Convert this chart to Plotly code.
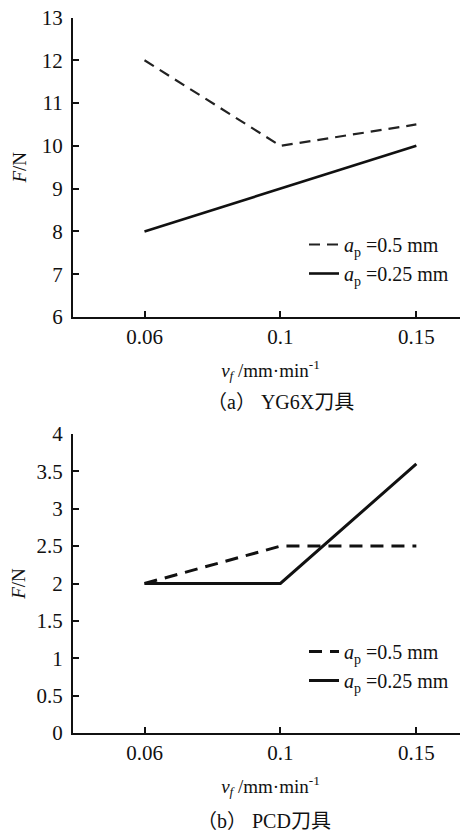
import plotly.graph_objects as go

categories = ["0.06", "0.1", "0.15"]
yg6x_ap05 = [12, 10, 10.5]
yg6x_ap025 = [8, 9, 10]
pcd_ap05 = [2, 2.5, 2.5]
pcd_ap025 = [2, 2, 3.6]
names = ["<i>a</i><sub>p</sub> =0.5 mm", "<i>a</i><sub>p</sub> =0.25 mm"]
top_yticks = [6, 7, 8, 9, 10, 11, 12, 13]
bot_yticks = [0, 0.5, 1, 1.5, 2, 2.5, 3, 3.5, 4]
bot_yticktext = ["0", "0.5", "1", "1.5", "2", "2.5", "3", "3.5", "4"]

OFF = 8  # default page body margin
W, H = 468 - OFF, 831 - OFF
FONT = "Liberation Serif, Noto Sans CJK SC, serif"

fig = go.Figure()
fig.add_trace(go.Scatter(x=categories, y=yg6x_ap05, mode="lines", name=names[0],
                         line=dict(color="#222", width=2.2, dash="11px,7px"),
                         xaxis="x", yaxis="y", legend="legend"))
fig.add_trace(go.Scatter(x=categories, y=yg6x_ap025, mode="lines", name=names[1],
                         line=dict(color="#111", width=2.6),
                         xaxis="x", yaxis="y", legend="legend"))
fig.add_trace(go.Scatter(x=categories, y=pcd_ap05, mode="lines", name=names[0],
                         line=dict(color="#111", width=3, dash="13px,8px"),
                         xaxis="x2", yaxis="y2", legend="legend2"))
fig.add_trace(go.Scatter(x=categories, y=pcd_ap025, mode="lines", name=names[1],
                         line=dict(color="#111", width=3),
                         xaxis="x2", yaxis="y2", legend="legend2"))

def px_y(p):
    return 1 - (p - OFF) / H

def px_x(p):
    return (p - OFF) / W

xdom = [px_x(73), 1.0]
xr = [-0.526, 2.38]
common_x = dict(type="category", range=xr, domain=xdom, showline=True, linecolor="#111",
                linewidth=2, ticks="inside", ticklen=6, tickwidth=1.5, tickcolor="#111",
                showgrid=False, zeroline=False, automargin=False,
                tickfont=dict(family=FONT, size=21, color="#111"),
                title=dict(text="<i>v</i><sub><i>f</i></sub> /mm·min<sup>-1</sup>",
                           font=dict(family=FONT, size=19, color="#111"), standoff=15))
common_y = dict(showline=True, linecolor="#111", linewidth=2, ticks="inside", ticklen=6,
                tickwidth=1.5, tickcolor="#111", showgrid=False, zeroline=False, automargin=False,
                ticklabelstandoff=4, ticklabeloverflow="allow",
                tickfont=dict(family=FONT, size=21, color="#111"),
                title=dict(text="<i>F</i>/N", font=dict(family=FONT, size=19, color="#111"), standoff=10))

fig.update_layout(
    template="none",
    width=W, height=H,
    margin=dict(l=0, r=0, t=0, b=0),
    paper_bgcolor="white", plot_bgcolor="white",
    font=dict(family=FONT, color="#111"),
    xaxis=dict(common_x, anchor="y"),
    yaxis=dict(common_y, domain=[px_y(317), px_y(17.5)], range=[6, 13], tickvals=top_yticks, anchor="x"),
    xaxis2=dict(common_x, anchor="y2"),
    yaxis2=dict(common_y, domain=[px_y(733), px_y(434)], range=[0, 4], tickvals=bot_yticks,
                ticktext=bot_yticktext, anchor="x2"),
    legend=dict(x=px_x(304), y=px_y(225), xanchor="left", yanchor="top", bgcolor="rgba(0,0,0,0)",
                font=dict(family=FONT, size=20, color="#111"), tracegroupgap=0),
    legend2=dict(x=px_x(304), y=px_y(632), xanchor="left", yanchor="top", bgcolor="rgba(0,0,0,0)",
                 font=dict(family=FONT, size=20, color="#111"), tracegroupgap=0),
    annotations=[
        dict(text="（a） YG6X刀具", x=px_x(280), y=px_y(402), xref="paper", yref="paper",
             xanchor="center", yanchor="middle",
             showarrow=False, font=dict(family=FONT, size=20, color="#111")),
        dict(text="（b） PCD刀具", x=px_x(264), y=px_y(821), xref="paper", yref="paper",
             xanchor="center", yanchor="middle",
             showarrow=False, font=dict(family=FONT, size=20, color="#111")),
    ],
)

fig.write_html("out.html")
